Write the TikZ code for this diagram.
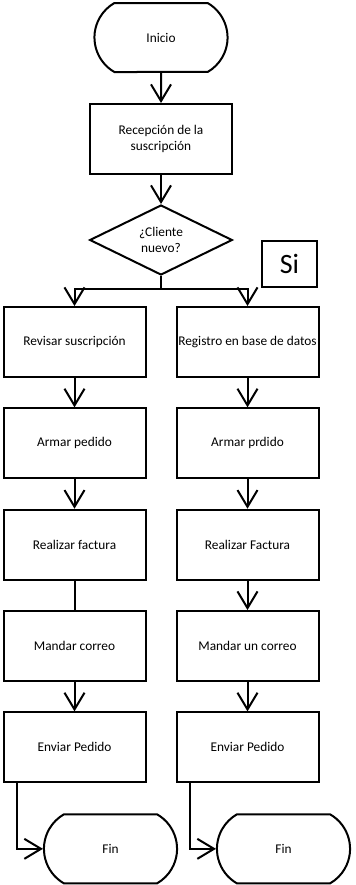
\documentclass[tikz,border=0pt]{standalone}
\usepackage{fontspec}
\setmainfont{Carlito}
\usetikzlibrary{positioning,shapes.geometric,shapes.misc,arrows.meta}

\begin{document}
\begin{tikzpicture}[
        node distance=22pt,
        every node/.style={font=\fontsize{10}{12}\selectfont},
        block/.style={rectangle, draw, line width=1.5pt, minimum width=106.5pt, minimum height=52.5pt, align=center, inner sep=1pt},
        terminal/.style={rounded rectangle, rounded rectangle arc length=120, draw, line width=1.5pt, minimum width=106.5pt, minimum height=51.75pt},
        decision/.style={diamond, draw, line width=1.5pt, minimum width=107pt, minimum height=52.5pt, aspect=2, inner sep=0pt, align=center},
        arrow/.style={-{Straight Barb[length=12.5pt,width=15pt]}, line width=1.5pt},
        line/.style={line width=1.5pt}
    ]

        \useasboundingbox (0,0) rectangle (267pt,-663.75pt);

        \node (inicio) [terminal] at (120.75pt,-28.125pt) {Inicio};
        \node (recep) [block, below=22.5pt of inicio] {Recepción de la\\suscripción};
        \node (dec) [decision, below=21.75pt of recep] {¿Cliente\\nuevo?};
        \coordinate[below=9.75pt of dec] (split);

        % columna izquierda
        \node (rev) [block, below=12.75pt of split, xshift=-64.875pt] {Revisar suscripción};
        \node (arm1) [block, below=of rev] {Armar pedido};
        \node (fac1) [block, below=of arm1] {Realizar factura};
        \node (cor1) [block, below=of fac1] {Mandar correo};
        \node (env1) [block, below=of cor1] {Enviar Pedido};
        \node (fin1) [terminal, below=22.5pt of env1, xshift=27pt] {Fin};

        % columna derecha
        \node (reg) [block, below=12.75pt of split, xshift=64.875pt] {Registro en base de datos};
        \node (arm2) [block, below=of reg] {Armar prdido};
        \node (fac2) [block, below=of arm2] {Realizar Factura};
        \node (cor2) [block, below=of fac2] {Mandar un correo};
        \node (env2) [block, below=of cor2] {Enviar Pedido};
        \node (fin2) [terminal, below=22.5pt of env2, xshift=27pt] {Fin};

        \node (si) [draw, line width=1.5pt, font=\fontsize{21}{24}\selectfont, minimum width=41.25pt, minimum height=34.5pt, anchor=south west] at ([xshift=75pt,yshift=1pt]split) {Si};

        \draw[arrow] (inicio) -- (recep);
        \draw[arrow] (recep) -- (dec);
        \draw[line] (dec) -- (split);
        \draw[arrow] (split) -| (rev);
        \draw[arrow] (split) -| (reg);

        \draw[arrow] (rev) -- (arm1);
        \draw[arrow] (arm1) -- (fac1);
        \draw[line] (fac1) -- (cor1);
        \draw[arrow] (cor1) -- (env1);
        \draw[arrow] ([xshift=10.5pt]env1.south west) |- (fin1);

        \draw[arrow] (reg) -- (arm2);
        \draw[arrow] (arm2) -- (fac2);
        \draw[arrow] (fac2) -- (cor2);
        \draw[arrow] (cor2) -- (env2);
        \draw[arrow] ([xshift=10.5pt]env2.south west) |- (fin2);

    \end{tikzpicture}
\end{document}
